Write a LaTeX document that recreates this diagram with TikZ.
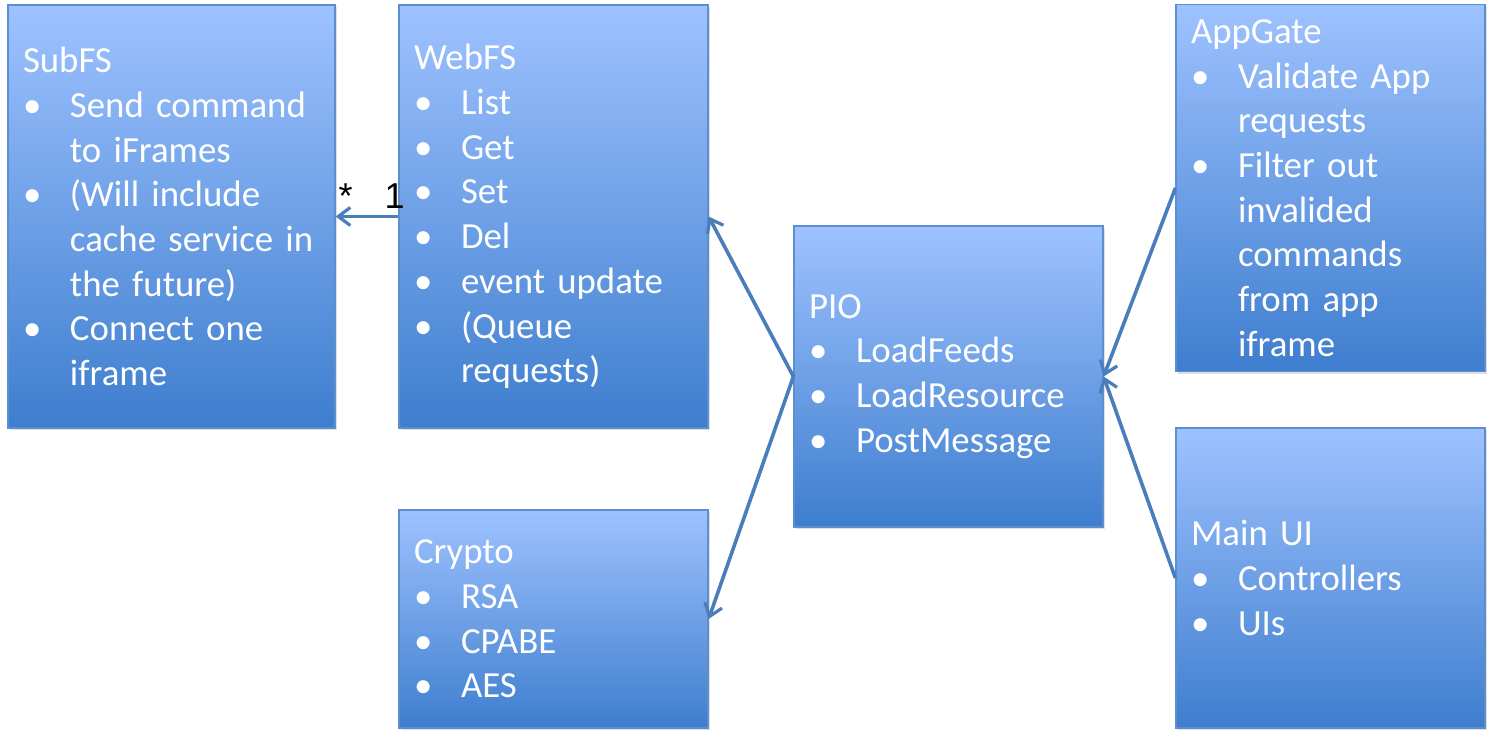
\documentclass[tikz,border=0pt]{standalone}
\usepackage{fontspec}
\setmainfont{Carlito}
\newfontfamily\arialfont{Liberation Sans}
\usetikzlibrary{arrows.meta,shadows}
\definecolor{boxtop}{RGB}{158,194,255}
\definecolor{boxbottom}{RGB}{62,126,206}
\definecolor{boxline}{RGB}{92,142,208}
\definecolor{linkcol}{RGB}{74,126,187}
\newcommand{\bul}[1]{\par\hangindent=23.5pt\hangafter=1\makebox[23.5pt][l]{\textbullet}#1}
\tikzset{
  block/.style={draw=boxline, line width=0.6pt, top color=boxtop, bottom color=boxbottom,
    text=white, align=left, inner sep=7.5pt, font=\fontsize{18.4pt}{22.35pt}\selectfont,
    drop shadow={shadow xshift=1pt, shadow yshift=-1pt, opacity=0.25}},
  link/.style={draw=linkcol, line width=1.8pt, -{Straight Barb[length=6pt,width=9pt,line width=1.6pt]}},
  mult/.style={font=\arialfont\fontsize{18pt}{20pt}\selectfont, text=black}
}
\begin{document}
\begin{tikzpicture}[x=0.5pt, y=-0.5pt]
		\useasboundingbox (0,0) rectangle (1492,739);
		% Left column
		\node [block, text width=148.5pt, minimum height=211.5pt] (subfs) at (171.5,216.5)
			{SubFS\bul{Send command\newline to iFrames}\bul{(Will include\newline cache service in\newline the future)}\bul{Connect one\newline iframe}\par};
		% Middle column
		\node [block, text width=139.5pt, minimum height=211.5pt] (webfs) at (553.5,216.5)
			{WebFS\bul{List}\bul{Get}\bul{Set}\bul{Del}\bul{event update}\bul{(Queue\newline requests)}\par};
		\node [block, text width=139.5pt, minimum height=109pt] (crypto) at (553.5,619)
			{Crypto\bul{RSA}\bul{CPABE}\bul{AES}\par};
		% PIO in the middle
		\node [block, text width=139.5pt, minimum height=150.5pt] (pio) at (948.5,376.5)
			{PIO\bul{LoadFeeds}\bul{LoadResource}\bul{PostMessage}\par};
		% Right column
		\node [block, text width=139.5pt, minimum height=183pt] (appgate) at (1330.5,188)
			{AppGate\bul{Validate App\newline requests}\bul{Filter out\newline invalided\newline commands\newline from app\newline iframe}\par};
		\node [block, text width=139.5pt, minimum height=150pt] (mainui) at (1330.5,578)
			{Main UI\bul{Controllers}\bul{UIs}\par};
		% Connectors
		\draw [link] (webfs.west) -- node [mult, pos=0.06, above] {1} node [mult, pos=0.84, above] {*} (subfs.east);
		\foreach \t in {webfs,crypto}
			\draw [link] (pio.west) -- (\t.east);
		\foreach \s in {appgate,mainui}
			\draw [link] (\s.west) -- (pio.east);
	\end{tikzpicture}
\end{document}
